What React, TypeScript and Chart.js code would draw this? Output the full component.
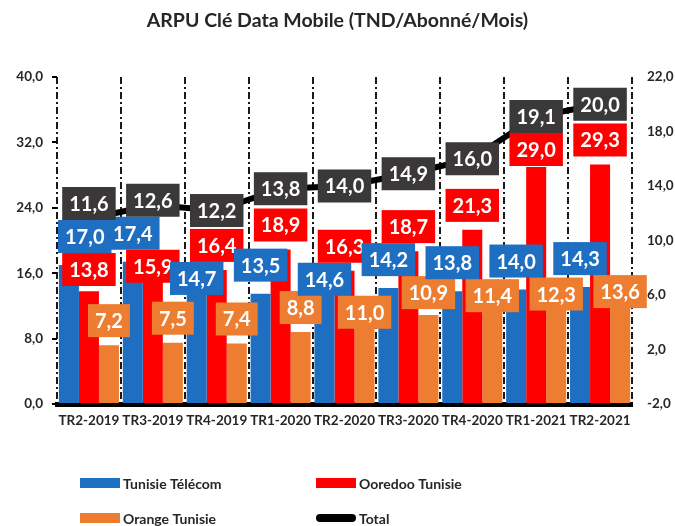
import React, { useEffect, useRef } from 'react';
import { Chart, registerables } from 'chart.js';

Chart.register(...registerables);

const categories = ['TR2-2019', 'TR3-2019', 'TR4-2019', 'TR1-2020', 'TR2-2020', 'TR3-2020', 'TR4-2020', 'TR1-2021', 'TR2-2021'];
const tunisieTelecom = [17.0, 17.4, 14.7, 13.5, 14.6, 14.2, 13.8, 14.0, 14.3];
const ooredooTunisie = [13.8, 15.9, 16.4, 18.9, 16.3, 18.7, 21.3, 29.0, 29.3];
const orangeTunisie = [7.2, 7.5, 7.4, 8.8, 11.0, 10.9, 11.4, 12.3, 13.6];
const total = [11.6, 12.6, 12.2, 13.8, 14.0, 14.9, 16.0, 19.1, 20.0];
const seriesNames = ['Tunisie Télécom', 'Ooredoo Tunisie', 'Orange Tunisie', 'Total'];
const chartTitle = 'ARPU Clé Data Mobile (TND/Abonné/Mois)';

const BLUE = '#1E6FC2';
const RED = '#FF0000';
const ORANGE = '#ED7D31';
const DARK = '#3A3838';
const TEXT = '#262626';
const FONT = 'Lato';

const fmt = (v: number) => Number(v).toFixed(1).replace('.', ',');

type Box = { cx: number; top: number; w: number; text: string; bg: string; value: number };

const boxLabels = {
  id: 'boxLabels',
  afterDatasetsDraw(chart: any) {
    const ctx = chart.ctx;
    const area = chart.chartArea;
    ctx.save();
    ctx.font = `bold 20px ${FONT}`;
    ctx.textAlign = 'center';
    ctx.textBaseline = 'middle';
    const h = 33;
    const mk = (dsIndex: number, j: number, gap: number): Box => {
      const ds = chart.data.datasets[dsIndex];
      const el = chart.getDatasetMeta(dsIndex).data[j];
      const text = fmt(ds.data[j]);
      const w = ctx.measureText(text).width + 14;
      const cx = Math.max(el.x, area.left + 1 + w / 2);
      return { cx, top: el.y - gap - h, w, text, bg: ds.backgroundColor, value: ds.data[j] };
    };
    const overlap = (a: Box, b: Box) =>
      Math.abs(a.cx - b.cx) < (a.w + b.w) / 2 && a.top < b.top + h && b.top < a.top + h;
    const drawBox = (b: Box) => {
      ctx.fillStyle = b.bg;
      ctx.fillRect(b.cx - b.w / 2, b.top, b.w, h);
      ctx.fillStyle = '#ffffff';
      ctx.fillText(b.text, b.cx, b.top + h / 2 + 1);
    };
    const barBoxes: Box[] = [];
    const totalBoxes: Box[] = [];
    const tds = chart.data.datasets[0];
    const tmeta = chart.getDatasetMeta(0);
    categories.forEach((_, j) => {
      const blue = mk(1, j, 12);
      const red = mk(2, j, 8);
      const orange = mk(3, j, 8);
      const tel = tmeta.data[j];
      const ttext = fmt(tds.data[j]);
      const tot: Box = { cx: tel.x, top: tel.y - h / 2, w: ctx.measureText(ttext).width + 14, text: ttext, bg: DARK, value: tds.data[j] };
      if (overlap(tot, blue)) tot.top = blue.top - h;
      if (overlap(tot, red)) red.top = tot.top + h;
      if (overlap(blue, red)) {
        if (blue.value >= red.value) red.top = blue.top + h;
        else blue.top = red.top + h;
      }
      for (let k = 0; k < 2; k++) {
        [blue, red].forEach((o) => {
          if (overlap(orange, o)) orange.top = o.top + h;
        });
      }
      barBoxes.push(blue, red, orange);
      totalBoxes.push(tot);
    });
    barBoxes.forEach(drawBox);
    totalBoxes.forEach(drawBox);
    ctx.restore();
  },
  afterDraw(chart: any) {
    const ctx = chart.ctx;
    ctx.save();
    ctx.font = `bold 19.5px ${FONT}`;
    ctx.fillStyle = TEXT;
    ctx.textAlign = 'center';
    ctx.textBaseline = 'middle';
    ctx.fillText(chartTitle, chart.width / 2, 21);
    const items = [
      { name: seriesNames[0], color: BLUE, x: 80, y: 483, line: false },
      { name: seriesNames[1], color: RED, x: 316, y: 483, line: false },
      { name: seriesNames[2], color: ORANGE, x: 80, y: 518, line: false },
      { name: seriesNames[3], color: '#000000', x: 316, y: 518, line: true },
    ];
    ctx.font = `bold 14px ${FONT}`;
    ctx.textAlign = 'left';
    items.forEach((it) => {
      if (it.line) {
        ctx.strokeStyle = it.color;
        ctx.lineWidth = 8;
        ctx.lineCap = 'round';
        ctx.beginPath();
        ctx.moveTo(it.x + 4, it.y);
        ctx.lineTo(it.x + 36, it.y);
        ctx.stroke();
      } else {
        ctx.fillStyle = it.color;
        ctx.fillRect(it.x, it.y - 5, 40, 10);
      }
      ctx.fillStyle = TEXT;
      ctx.fillText(it.name, it.x + 43, it.y + 1);
    });
    ctx.restore();
  },
};

export default function App() {
  const ref = useRef<HTMLCanvasElement | null>(null);
  useEffect(() => {
    if (!ref.current) return;
    const dash = [7, 3, 2, 3];
    const tickFont = { family: FONT, weight: 'bold' as const, size: 13.5 };
    const chart = new Chart(ref.current, {
      type: 'bar',
      data: {
        labels: categories,
        datasets: [
          {
            type: 'line',
            label: seriesNames[3],
            data: total,
            yAxisID: 'y2',
            borderColor: '#000000',
            borderWidth: 6,
            pointRadius: 0,
            fill: false,
            order: 0,
          } as any,
          { type: 'bar', label: seriesNames[0], data: tunisieTelecom, backgroundColor: BLUE, yAxisID: 'y', order: 1, barPercentage: 1, categoryPercentage: 0.94 },
          { type: 'bar', label: seriesNames[1], data: ooredooTunisie, backgroundColor: RED, yAxisID: 'y', order: 1, barPercentage: 1, categoryPercentage: 0.94 },
          { type: 'bar', label: seriesNames[2], data: orangeTunisie, backgroundColor: ORANGE, yAxisID: 'y', order: 1, barPercentage: 1, categoryPercentage: 0.94 },
        ],
      },
      options: {
        animation: false,
        responsive: true,
        maintainAspectRatio: false,
        layout: { padding: { top: 77, left: 0, right: 0, bottom: 0 } },
        plugins: { legend: { display: false }, title: { display: false }, tooltip: { enabled: false } },
        scales: {
          x: {
            offset: true,
            grid: {
              offset: true,
              display: true,
              drawOnChartArea: true,
              drawTicks: false,
              lineWidth: 2,
              borderDash: dash,
              color: (c: any) => (c.index === categories.length ? 'rgba(0,0,0,0.2)' : '#1a1a1a'),
            } as any,
            border: { display: true, color: '#000000', width: 5, dash: dash },
            ticks: { color: TEXT, font: tickFont, padding: 9, maxRotation: 0, autoSkip: false },
            afterFit: (s: any) => { s.height = 122; },
          },
          y: {
            position: 'left',
            min: 0,
            max: 40,
            ticks: { stepSize: 8, color: TEXT, font: tickFont, padding: 9, callback: (v: any) => fmt(v) },
            grid: { drawOnChartArea: false, drawTicks: true, tickLength: 5, color: '#000000', lineWidth: 2 },
            border: { display: false },
            afterFit: (s: any) => { s.width = 57; },
          },
          y2: {
            position: 'right',
            min: -2,
            max: 22,
            ticks: { stepSize: 4, color: TEXT, font: tickFont, padding: 15, callback: (v: any) => fmt(v) },
            grid: { display: false, drawTicks: false },
            border: { display: false },
            afterFit: (s: any) => { s.width = 43; },
          },
        },
      },
      plugins: [boxLabels],
    });
    return () => chart.destroy();
  }, []);
  return (
    <div style={{ position: 'fixed', left: 0, top: 0, width: 675, height: 526, background: '#ffffff' }}>
      <canvas ref={ref} />
    </div>
  );
}
